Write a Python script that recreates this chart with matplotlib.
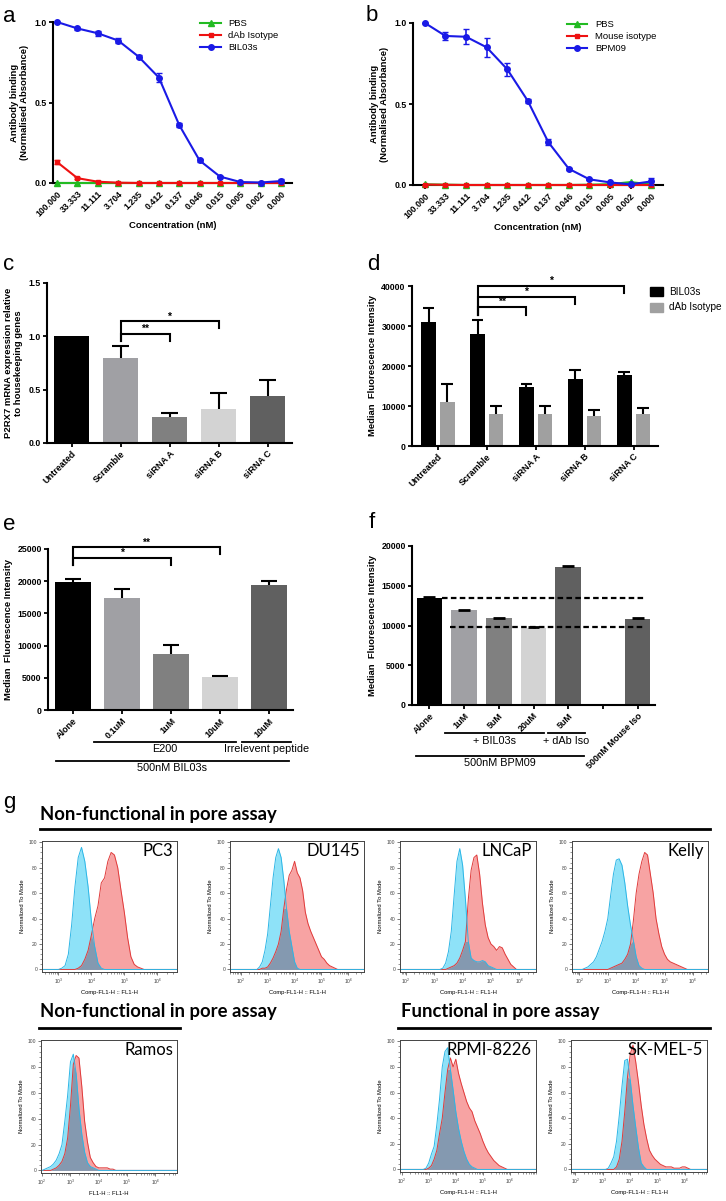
import numpy as np
import matplotlib.pyplot as plt
from matplotlib.lines import Line2D
from matplotlib.patches import Patch
from matplotlib.ticker import MultipleLocator, LogLocator, NullFormatter

plt.rcParams['font.family'] = ['Liberation Sans', 'DejaVu Sans']
plt.rcParams['font.weight'] = 'bold'
plt.rcParams['axes.labelweight'] = 'bold'

# ---------------- data ----------------
conc_labels = ['100.000', '33.333', '11.111', '3.704', '1.235', '0.412',
               '0.137', '0.046', '0.015', '0.005', '0.002', '0.000']

a_pbs = [0, 0, 0, 0, 0, 0, 0, 0, 0, 0, 0, 0]
a_iso = [0.13, 0.03, 0.008, 0.002, 0, 0, 0, 0, 0, 0, 0, 0]
a_iso_err = [0.015, 0.005, 0.003, 0, 0, 0, 0, 0, 0, 0, 0, 0]
a_bil = [1.0, 0.96, 0.93, 0.885, 0.785, 0.655, 0.36, 0.14, 0.04, 0.006, 0.003, 0.012]
a_bil_err = [0.003, 0.012, 0.015, 0.015, 0.01, 0.03, 0.01, 0.008, 0.005, 0.003, 0.003, 0.012]

b_pbs = [0.004, 0.002, 0, 0, 0, 0, 0, 0, 0.002, 0.005, 0.018, 0.003]
b_iso = [0.003, 0.001, 0, 0, 0, 0, 0, 0, 0, 0, 0, 0]
b_bpm = [1.0, 0.92, 0.915, 0.85, 0.715, 0.52, 0.265, 0.10, 0.035, 0.016, 0.004, 0.022]
b_bpm_err = [0.003, 0.025, 0.045, 0.06, 0.04, 0.012, 0.02, 0.006, 0.004, 0.004, 0.004, 0.02]

c_labels = ['Untreated', 'Scramble', 'siRNA A', 'siRNA B', 'siRNA C']
c_vals = [1.0, 0.80, 0.24, 0.32, 0.44]
c_err = [0, 0.11, 0.04, 0.15, 0.15]

d_labels = ['Untreated', 'Scramble', 'siRNA A', 'siRNA B', 'siRNA C']
d_bil = [31000, 28000, 14700, 16700, 17800]
d_bil_err = [3500, 3500, 800, 2200, 700]
d_iso = [11000, 8100, 8000, 7500, 8000]
d_iso_err = [4500, 1900, 1900, 1400, 1500]

e_labels = ['Alone', '0.1uM', '1uM', '10uM', '10uM']
e_vals = [19800, 17400, 8700, 5200, 19400]
e_err = [600, 1400, 1400, 150, 700]

f_labels = ['Alone', '1uM', '5uM', '20uM', '5uM', '', '500nM Mouse Iso']
f_vals = [13500, 11900, 10900, 9650, 17350, np.nan, 10800]
f_err = [40, 80, 50, 120, 120, np.nan, 100]

bar_grey = ['#000000', '#a0a0a4', '#808080', '#d3d3d3', '#606060']
f_colors = ['#000000', '#a0a0a4', '#808080', '#d3d3d3', '#606060', '#606060', '#606060']

# flow histograms: log10 grid start, blue (control) and red (antibody) traces
hist_names = ['PC3', 'DU145', 'LNCaP', 'Kelly', 'Ramos', 'RPMI-8226', 'SK-MEL-5']
hist_start = [3.0, 2.5, 3.2, 2.1, 2.0, 2.8, 3.1]
hist_blue = [
    [0, 1, 3, 12, 35, 65, 88, 96, 85, 65, 38, 18, 5, 1, 0, 0, 0, 0, 0, 0, 0, 0, 0, 0, 0, 0, 0],
    [0, 0, 2, 6, 15, 28, 50, 72, 88, 95, 88, 70, 48, 30, 18, 6, 1, 0,
     0, 0, 0, 0, 0, 0, 0, 0, 0, 0, 0, 0, 0, 0],
    [0, 1, 5, 14, 30, 58, 85, 95, 82, 55, 22, 9, 7, 6, 6, 7, 6, 3, 2, 1, 0,
     0, 0, 0, 0, 0, 0, 0],
    [0, 1, 2, 4, 6, 10, 16, 22, 30, 40, 58, 75, 86, 87, 82, 68, 50, 35, 23, 10, 3, 1, 0,
     0, 0, 0, 0, 0, 0, 0, 0, 0, 0, 0, 0, 0, 0, 0],
    [0, 1, 2, 3, 5, 8, 13, 20, 38, 58, 84, 90, 75, 48, 28, 14, 6, 3, 2, 1, 0,
     0, 0, 0, 0, 0, 0],
    [0, 1, 5, 12, 18, 35, 55, 80, 92, 95, 78, 62, 45, 32, 22, 14, 8, 4, 2, 1, 0,
     0, 0, 0, 0, 0, 0, 0, 0, 0, 0, 0],
    [0, 1, 5, 10, 22, 42, 65, 85, 86, 70, 50, 33, 17, 5, 2, 0,
     0, 0, 0, 0, 0, 0, 0, 0, 0, 0, 0, 0, 0, 0, 0, 0],
]
hist_red = [
    [0, 0, 0, 0, 0, 0, 1, 3, 8, 15, 27, 40, 50, 68, 72, 85, 92, 90, 80, 62, 45, 25, 10, 4, 2, 1, 0],
    [0, 0, 0, 1, 1, 2, 5, 9, 14, 20, 30, 48, 63, 74, 78, 85, 76, 72, 62, 45, 36, 30, 25, 20,
     15, 10, 8, 5, 3, 2, 1, 0],
    [0, 0, 0, 1, 2, 3, 5, 9, 15, 22, 55, 78, 88, 90, 75, 52, 35, 25, 20, 18, 15, 18, 17, 12,
     8, 4, 2, 0],
    [0, 0, 0, 0, 0, 0, 0, 0, 0, 0, 1, 2, 3, 4, 5, 8, 12, 20, 38, 60, 75, 85, 92, 90, 75, 60,
     40, 28, 18, 12, 8, 6, 5, 4, 3, 2, 1, 0],
    [0, 0, 0, 0, 1, 2, 4, 7, 13, 25, 50, 82, 89, 87, 65, 38, 22, 10, 6, 3, 2, 2, 2, 2, 1, 1, 0],
    [0, 0, 1, 3, 8, 15, 28, 40, 60, 78, 87, 80, 86, 75, 67, 60, 53, 48, 45, 38, 33, 28, 22,
     17, 13, 10, 7, 5, 3, 2, 1, 0],
    [0, 0, 0, 0, 2, 8, 22, 45, 72, 90, 97, 84, 68, 50, 35, 24, 15, 11, 8, 6, 4, 3, 2, 2, 2,
     1, 1, 1, 2, 2, 1, 0],
]
hist_xlabels = ['Comp-FL1-H :: FL1-H'] * 4 + ['FL1-H :: FL1-H'] + ['Comp-FL1-H :: FL1-H'] * 2

# ---------------- layout helpers ----------------
W, H = 726, 1201
fig = plt.figure(figsize=(W / 100, H / 100), dpi=100)


def add_ax(l, t, r, b):
    return fig.add_axes([l / W, 1 - b / H, (r - l) / W, (b - t) / H])


def prism_style(ax):
    for s in ['top', 'right']:
        ax.spines[s].set_visible(False)
    for s in ['left', 'bottom']:
        ax.spines[s].set_linewidth(1.5)
    ax.tick_params(width=1.3, length=3, labelsize=6.3, pad=1.5)


def fig_line(x0, x1, y, lw=2.0):
    fig.add_artist(Line2D([x0 / W, x1 / W], [1 - y / H, 1 - y / H],
                          transform=fig.transFigure, color='black', lw=lw))


def upper_err(ax, x, vals, errs, half, lw=1.5):
    x = np.asarray(x, float)
    vals = np.asarray(vals, float)
    errs = np.asarray(errs, float)
    m = errs > 0
    ax.vlines(x[m], vals[m], vals[m] + errs[m], color='black', lw=lw, zorder=3)
    ax.hlines(vals[m] + errs[m], x[m] - half, x[m] + half, color='black', lw=lw, zorder=3)


def brackets(ax, specs, low, fs=7.5):
    for x1, x2, top, drop, lab in specs:
        ax.plot([x1, x1, x2, x2], [low, top, top, drop], color='black', lw=1.5,
                clip_on=False, solid_joinstyle='miter')
        ax.text((x1 + x2) / 2, top, lab, ha='center', va='bottom', fontsize=fs)


# ---------------- panels a, b ----------------
def binding_panel(ax, pbs, iso, iso_err, ab, ab_err, names):
    x = np.arange(len(conc_labels))
    ax.plot(x, pbs, color='#22bb22', marker='^', ms=4, lw=1.5, label=names[0], clip_on=False, zorder=3)
    ax.errorbar(x, iso, yerr=iso_err, color='#ee1111', marker='s', ms=3.5, lw=1.5,
                capsize=2, elinewidth=1.2, label=names[1], clip_on=False, zorder=4)
    ax.errorbar(x, ab, yerr=ab_err, color='#1a1ae6', marker='o', ms=4, lw=1.5,
                capsize=2.5, elinewidth=1.2, label=names[2], clip_on=False, zorder=5)
    prism_style(ax)
    ax.set_ylim(0, 1.0)
    ax.set_yticks([0, 0.5, 1.0])
    ax.set_yticklabels(['0.0', '0.5', '1.0'])
    ax.set_xticks(x)
    ax.set_xticklabels(conc_labels, rotation=45, ha='right', rotation_mode='anchor', fontsize=6.3)
    ax.set_xlabel('Concentration (nM)', fontsize=6.8, labelpad=2)
    ax.set_ylabel('Antibody binding\n(Normalised Absorbance)', fontsize=6.8, labelpad=4)
    handles = [Line2D([], [], color='#22bb22', marker='^', ms=4, lw=1.5),
               Line2D([], [], color='#ee1111', marker='s', ms=3.5, lw=1.5),
               Line2D([], [], color='#1a1ae6', marker='o', ms=4, lw=1.5)]
    ax.legend(handles, names, loc='upper left', bbox_to_anchor=(0.58, 1.07), frameon=False,
              prop={'size': 6.8, 'weight': 'normal'}, handlelength=2.2, labelspacing=0.3)


ax_a = add_ax(53, 22, 292, 183)
binding_panel(ax_a, a_pbs, a_iso, a_iso_err, a_bil, a_bil_err, ['PBS', 'dAb Isotype', 'BIL03s'])
ax_a.set_xlim(-0.2, 11.54)

ax_b = add_ax(413, 23, 663, 185)
binding_panel(ax_b, b_pbs, b_iso, [0] * 12, b_bpm, b_bpm_err, ['PBS', 'Mouse isotype', 'BPM09'])
ax_b.set_xlim(-0.58, 11.58)

# ---------------- panel c ----------------
ax_c = add_ax(47, 283, 292, 443)
xc = np.arange(len(c_labels))
ax_c.bar(xc, c_vals, width=0.72, color=bar_grey, zorder=2)
upper_err(ax_c, xc, c_vals, c_err, 0.17)
prism_style(ax_c)
ax_c.set_xlim(-0.5, 4.5)
ax_c.set_ylim(0, 1.5)
ax_c.set_yticks([0, 0.5, 1.0, 1.5])
ax_c.set_yticklabels(['0.0', '0.5', '1.0', '1.5'])
ax_c.set_xticks(xc)
ax_c.set_xticklabels(c_labels, rotation=45, ha='right', rotation_mode='anchor', fontsize=6.5)
ax_c.set_ylabel('P2RX7 mRNA expression relative\nto housekeeping genes', fontsize=6.8, labelpad=4)
brackets(ax_c, [(1, 2, 1.02, 0.96, '**'), (1, 3, 1.14, 1.08, '*')], 0.96)

# ---------------- panel d ----------------
ax_d = add_ax(412, 286, 658, 446)
xd = np.arange(len(d_labels))
ax_d.bar(xd - 0.19, d_bil, width=0.3, color='black', zorder=2)
ax_d.bar(xd + 0.19, d_iso, width=0.3, color='#a0a0a0', zorder=2)
upper_err(ax_d, xd - 0.19, d_bil, d_bil_err, 0.12)
upper_err(ax_d, xd + 0.19, d_iso, d_iso_err, 0.12)
prism_style(ax_d)
ax_d.set_xlim(-0.53, 4.5)
ax_d.set_ylim(0, 40000)
ax_d.set_yticks([0, 10000, 20000, 30000, 40000])
ax_d.set_xticks(xd)
ax_d.set_xticklabels(d_labels, rotation=45, ha='right', rotation_mode='anchor', fontsize=6.5)
ax_d.set_ylabel('Median  Fluorescence Intensity', fontsize=6.8, labelpad=3)
brackets(ax_d, [(0.81, 1.81, 34700, 32700, '**'), (0.81, 2.81, 37300, 35500, '*'),
                (0.81, 3.81, 40000, 38300, '*')], 32700)
ax_d.legend([Patch(color='black'), Patch(color='#a0a0a0')], ['BIL03s', 'dAb Isotype'],
            loc='upper left', bbox_to_anchor=(0.93, 1.05), frameon=False,
            prop={'size': 7.2, 'weight': 'normal'}, handlelength=1.3, handleheight=1.0,
            labelspacing=0.55, handletextpad=0.6)

# ---------------- panel e ----------------
ax_e = add_ax(48, 549, 293, 710)
xe = np.arange(len(e_labels))
ax_e.bar(xe, e_vals, width=0.72, color=bar_grey, zorder=2)
upper_err(ax_e, xe, e_vals, e_err, 0.17)
prism_style(ax_e)
ax_e.set_xlim(-0.51, 4.49)
ax_e.set_ylim(0, 25000)
ax_e.set_yticks([0, 5000, 10000, 15000, 20000, 25000])
ax_e.set_xticks(xe)
ax_e.set_xticklabels(e_labels, rotation=45, ha='right', rotation_mode='anchor', fontsize=6.5)
ax_e.set_ylabel('Median  Fluorescence Intensity', fontsize=6.8, labelpad=3)
brackets(ax_e, [(0, 2, 23550, 22500, '*'), (0, 3, 25250, 24270, '**')], 22500)


def group_lines(ax, bottom, height, specs):
    tr = ax.get_xaxis_transform()
    for x0, x1, y_line, y_text, lab in specs:
        ay = (bottom - y_line) / height
        ty = (bottom - y_text) / height
        ax.plot([x0, x1], [ay, ay], transform=tr, color='black', lw=1.3, clip_on=False)
        ax.text((x0 + x1) / 2, ty, lab, transform=tr, ha='center', va='top',
                fontsize=7.8, fontweight='normal')


group_lines(ax_e, 710, 161, [(0.43, 3.33, 741.7, 743.5, 'E200'),
                             (3.45, 4.45, 741.7, 743.5, 'Irrelevent peptide'),
                             (-0.35, 4.4, 761, 763, '500nM BIL03s')])

# ---------------- panel f ----------------
ax_f = add_ax(412, 546, 655, 705)
xf = np.arange(len(f_labels))
ax_f.bar(xf, f_vals, width=0.74, color=f_colors, zorder=2)
upper_err(ax_f, xf, np.nan_to_num(f_vals), np.nan_to_num(f_err), 0.17, lw=2)
prism_style(ax_f)
ax_f.set_xlim(-0.5, 6.5)
ax_f.set_ylim(0, 20000)
ax_f.set_yticks([0, 5000, 10000, 15000, 20000])
ax_f.set_xticks(xf)
ax_f.set_xticklabels(f_labels, rotation=45, ha='right', rotation_mode='anchor', fontsize=6.5)
ax_f.set_ylabel('Median  Fluorescence Intensity', fontsize=6.8, labelpad=3)
ax_f.hlines(f_vals[0], 0.37, 6.22, color='black', lw=1.6, linestyles=(0, (2.5, 1.5)), zorder=4)
ax_f.hlines(f_vals[3] + f_err[3], 0.6, 6.22, color='black', lw=1.6, linestyles=(0, (2.5, 1.5)), zorder=4)
group_lines(ax_f, 705, 159, [(0.45, 3.3, 733.3, 735.5, '+ BIL03s'),
                             (3.41, 4.47, 733.3, 735.5, '+ dAb Iso'),
                             (-0.38, 4.45, 756, 758, '500nM BPM09')])

# ---------------- panel letters ----------------
for lab, x, y in [('a', 3, 22), ('b', 366, 21), ('c', 3, 270), ('d', 367, 270),
                  ('e', 3, 530), ('f', 369, 528), ('g', 3, 808)]:
    fig.text(x / W, 1 - y / H, lab, fontsize=16, fontweight='normal', va='baseline')

# ---------------- panel g ----------------
title_font = dict(fontsize=13.3, fontweight='bold', family=['Lato', 'DejaVu Sans'], va='baseline')
fig.text(40 / W, 1 - 820 / H, 'Non-functional in pore assay', **title_font)
fig_line(40, 710, 829)
fig.text(40 / W, 1 - 1017 / H, 'Non-functional in pore assay', **title_font)
fig_line(39, 180, 1028)
fig.text(401 / W, 1 - 1017 / H, 'Functional in pore assay', **title_font)
fig_line(398, 710, 1028)

hist_boxes = [(42, 841, 177, 972), (230, 841, 364, 972), (400, 841, 536, 972),
              (572, 841, 708, 972), (41, 1040, 177, 1173), (400, 1040, 536, 1172),
              (571, 1040, 707, 1172)]
hist_xlims = [(2.5, 6.6), (1.6, 6.58), (1.79, 6.59), (1.74, 6.53), (1.96, 6.76),
              (1.94, 6.96), (1.84, 6.8)]

for i, name in enumerate(hist_names):
    ax = add_ax(*hist_boxes[i])
    blue = np.array(hist_blue[i], float)
    red = np.array(hist_red[i], float)
    grid = hist_start[i] + 0.1 * np.arange(len(blue))
    lo, hi = hist_xlims[i]
    xs = 10 ** np.concatenate([[lo], grid, [hi]])
    yb = np.concatenate([[0], blue, [0]])
    yr = np.concatenate([[0], red, [0]])
    yo = np.minimum(yb, yr)
    ax.fill_between(xs, yb, color='#8ee2f8', lw=0)
    ax.fill_between(xs, yr, color='#f7a3a3', lw=0)
    ax.fill_between(xs, yo, color='#8499b0', lw=0)
    ax.plot(xs, yr, color='#e03a3a', lw=0.7)
    ax.plot(xs, yb, color='#2cb6e6', lw=0.7)
    ax.set_xscale('log')
    ax.set_xlim(10 ** lo, 10 ** hi)
    ax.set_ylim(-2, 101)
    ax.yaxis.set_major_locator(MultipleLocator(20))
    ax.yaxis.set_minor_locator(MultipleLocator(4))
    ax.xaxis.set_major_locator(LogLocator(base=10))
    ax.xaxis.set_minor_locator(LogLocator(base=10, subs=np.arange(2, 10)))
    ax.xaxis.set_minor_formatter(NullFormatter())
    for s in ax.spines.values():
        s.set_linewidth(0.7)
        s.set_color('#444444')
    ax.tick_params(which='major', length=2.2, width=0.5, labelsize=3.6, pad=1, colors='#444444')
    ax.tick_params(which='minor', length=1.2, width=0.4, colors='#444444')
    for t in ax.get_xticklabels() + ax.get_yticklabels():
        t.set_fontweight('normal')
    ax.set_ylabel('Normalized To Mode', fontsize=4.2, fontweight='normal', labelpad=3)
    ax.set_xlabel(hist_xlabels[i], fontsize=4.2, fontweight='normal', labelpad=3)
    ax.text(0.97, 0.985, name, transform=ax.transAxes, ha='right', va='top',
            fontsize=12, fontweight='normal', family=['Lato', 'DejaVu Sans'])

fig.savefig('out.png', dpi=100)
